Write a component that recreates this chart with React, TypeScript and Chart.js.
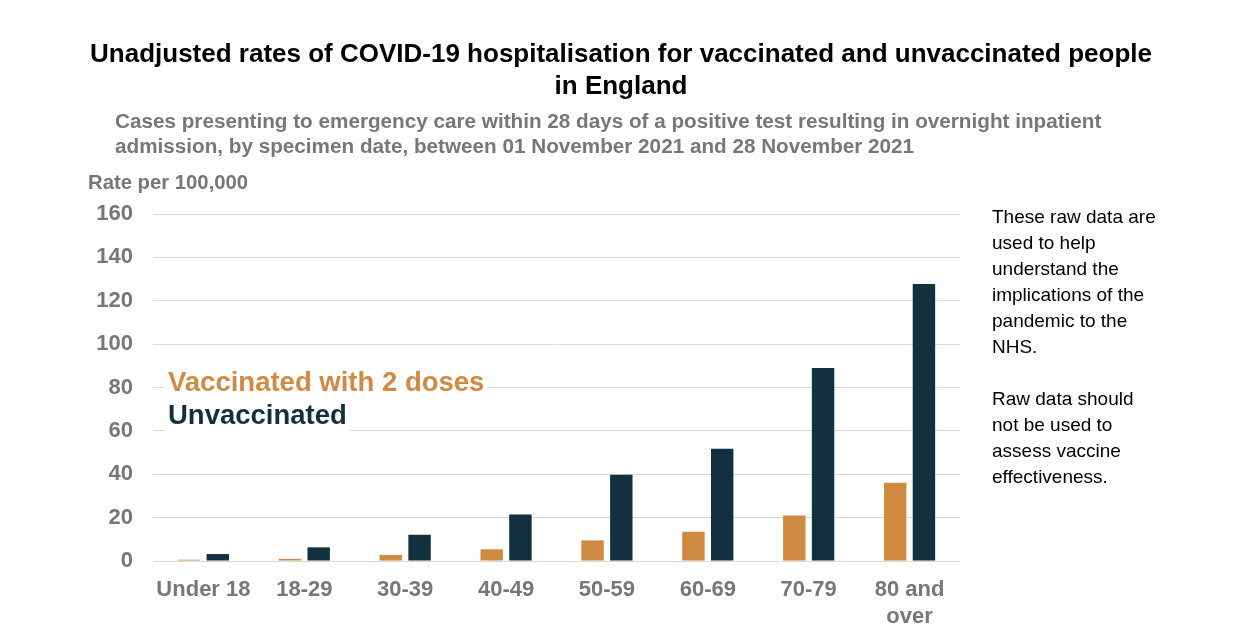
import React, { useEffect, useRef } from "react";
import { Chart, registerables } from "chart.js";

Chart.register(...registerables);

const categories: (string | string[])[] = ["Under 18", "18-29", "30-39", "40-49", "50-59", "60-69", "70-79", ["80 and", "over"]];
const vaccinated = [0.6, 1.0, 2.8, 5.4, 9.5, 13.5, 21.0, 36.1];
const unvaccinated = [3.2, 6.3, 12.1, 21.4, 39.8, 51.8, 89.0, 127.7];
const seriesLabels = ["Vaccinated with 2 doses", "Unvaccinated"];
const yMax = 160;
const yStep = 20;

const titleLines = ["Unadjusted rates of COVID-19 hospitalisation for vaccinated and unvaccinated people", "in England"];
const subtitleLines = [
  "Cases presenting to emergency care within 28 days of a positive test resulting in overnight inpatient",
  "admission, by specimen date, between 01 November 2021 and 28 November 2021",
];
const axisTitle = "Rate per 100,000";
const noteLines = [
  "These raw data are",
  "used to help",
  "understand the",
  "implications of the",
  "pandemic to the",
  "NHS.",
  "",
  "Raw data should",
  "not be used to",
  "assess vaccine",
  "effectiveness.",
];

const ORANGE = "#D08A41";
const NAVY = "#13303F";
const GREY = "#777777";
const FONT = "'Liberation Sans', Arial, sans-serif";

const legendPlugin = {
  id: "inlineLegend",
  afterDatasetsDraw(chart: any) {
    const ctx = chart.ctx;
    const x = 168;
    const ys = [383, 416];
    ctx.save();
    ctx.font = `bold 27.5px ${FONT}`;
    ctx.textBaseline = "middle";
    ctx.textAlign = "left";
    chart.data.datasets.forEach((ds: any, i: number) => {
      const w = ctx.measureText(ds.label).width;
      ctx.fillStyle = "#ffffff";
      ctx.fillRect(x - 3, ys[i] - 16, w + 6, 32);
      ctx.fillStyle = ds.backgroundColor;
      ctx.fillText(ds.label, x, ys[i]);
    });
    ctx.restore();
  },
};

export default function App() {
  const ref = useRef<HTMLCanvasElement | null>(null);

  useEffect(() => {
    if (!ref.current) return;
    const chart = new Chart(ref.current, {
      type: "bar",
      data: {
        labels: categories,
        datasets: [
          { label: seriesLabels[0], data: vaccinated, backgroundColor: ORANGE, categoryPercentage: 0.57, barPercentage: 0.78 },
          { label: seriesLabels[1], data: unvaccinated, backgroundColor: NAVY, categoryPercentage: 0.57, barPercentage: 0.78 },
        ],
      },
      options: {
        responsive: false,
        animation: false,
        devicePixelRatio: 1,
        layout: { padding: { top: 214, right: 282, bottom: 0, left: 0 } },
        plugins: { legend: { display: false }, tooltip: { enabled: false }, title: { display: false } },
        scales: {
          x: {
            grid: { display: false, drawTicks: false },
            border: { display: false },
            ticks: { color: GREY, font: { family: FONT, size: 22, weight: "bold", lineHeight: 1.2 }, padding: 16, maxRotation: 0, autoSkip: false },
            afterFit: (s: any) => { s.height = 66; },
          },
          y: {
            min: 0,
            max: yMax,
            grid: { color: "#d9d9d9", lineWidth: 1, drawTicks: false },
            border: { display: false },
            ticks: { stepSize: yStep, color: GREY, font: { family: FONT, size: 22, weight: "bold" }, padding: 20 },
            afterFit: (s: any) => { s.width = 153; },
          },
        },
      },
      plugins: [legendPlugin],
    });
    return () => chart.destroy();
  }, []);

  return (
    <div style={{ position: "absolute", left: 0, top: 0, width: 1242, height: 627, background: "#fff", fontFamily: FONT }}>
      <canvas ref={ref} width={1242} height={627} style={{ position: "absolute", left: 0, top: 0, width: 1242, height: 627 }} />
      <div style={{ position: "absolute", left: 0, top: 37, width: 1242, textAlign: "center", fontWeight: "bold", fontSize: 26, lineHeight: "32px", color: "#000" }}>
        {titleLines.map((l, i) => <div key={i}>{l}</div>)}
      </div>
      <div style={{ position: "absolute", left: 115, top: 108, whiteSpace: "pre", fontWeight: "bold", fontSize: 20.7, lineHeight: "25px", color: GREY }}>
        {subtitleLines.map((l, i) => <div key={i}>{l}</div>)}
      </div>
      <div style={{ position: "absolute", left: 88, top: 171, whiteSpace: "pre", fontWeight: "bold", fontSize: 20.3, lineHeight: "22px", color: GREY }}>
        {axisTitle}
      </div>
      <div style={{ position: "absolute", left: 992, top: 204, whiteSpace: "pre", fontSize: 19, lineHeight: "26px", color: "#000" }}>
        {noteLines.map((l, i) => <div key={i} style={{ height: 26 }}>{l}</div>)}
      </div>
    </div>
  );
}
